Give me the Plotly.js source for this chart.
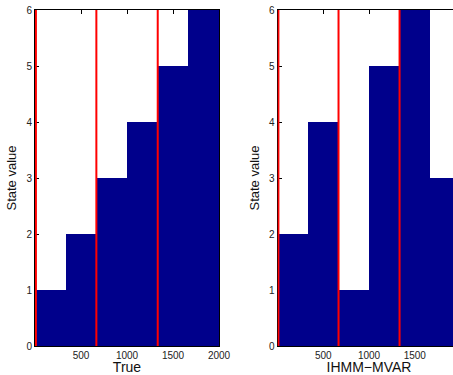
<!DOCTYPE html>
<html>
<head>
<meta charset="utf-8">
<script src="https://cdn.plot.ly/plotly-3.0.1.min.js"></script>
<style>
html,body{margin:0;padding:0;overflow:hidden;background:#fff;}
#chart{width:480px;height:375px;}
</style>
</head>
<body>
<div id="chart"></div>
<script>
// Segment boundaries (time index) and state per segment
var segStarts = [0, 334, 667, 1000, 1334, 1667];
var segEnds   = [334, 667, 1000, 1334, 1667, 2000];
var trueStates = [1, 2, 3, 4, 5, 6];
var ihmmStates = [2, 4, 1, 5, 6, 3];
var changePoints = [10, 667, 1334];
var yTicks = [0, 1, 2, 3, 4, 5, 6];
var xTicksLeft = [500, 1000, 1500, 2000];
var xTicksRight = [500, 1000, 1500];
var panelTitles = ['True', 'IHMM\u2212MVAR'];

var fillColor = '#00008B';
var W = 480;

function barTrace(states, xa, ya) {
  var x = [], w = [];
  for (var i = 0; i < segStarts.length; i++) {
    x.push((segStarts[i] + segEnds[i]) / 2);
    w.push(segEnds[i] - segStarts[i]);
  }
  return {type: 'bar', x: x, y: states, width: w, xaxis: xa, yaxis: ya,
          marker: {color: fillColor, line: {width: 0}}, hoverinfo: 'skip', showlegend: false};
}
function cpTraces(xa, ya) {
  return changePoints.map(function (c) {
    return {type: 'scatter', mode: 'lines', x: [c, c], y: [0, 6], xaxis: xa, yaxis: ya,
            line: {color: '#FF0000', width: 2}, hoverinfo: 'skip', showlegend: false};
  });
}

var data = [barTrace(trueStates, 'x', 'y')].concat(cpTraces('x', 'y'))
  .concat([barTrace(ihmmStates, 'x2', 'y2')]).concat(cpTraces('x2', 'y2'));

var fam = 'Liberation Sans, Arial, sans-serif';
function xAxis(domain, title, anchor, ticks) {
  return {domain: domain, range: [0, 2000], anchor: anchor, tickvals: ticks,
          ticks: 'inside', ticklen: 4, tickcolor: '#000', showline: true, linecolor: '#000',
          linewidth: 1, mirror: 'ticks', showgrid: false, zeroline: false, layer: 'below traces',
          tickfont: {family: fam, size: 10, color: '#222'},
          title: {text: title, standoff: 5, font: {family: fam, size: 14, color: '#111'}}};
}
function yAxis(anchor) {
  return {domain: [0, 1], range: [0, 6], anchor: anchor, tickvals: yTicks,
          ticks: 'inside', ticklen: 4, tickcolor: '#000', showline: true, linecolor: '#000',
          linewidth: 1, mirror: 'ticks', showgrid: false, zeroline: false, layer: 'below traces',
          tickfont: {family: fam, size: 10, color: '#222'},
          title: {text: 'State value', standoff: 6, font: {family: fam, size: 13, color: '#111'}}};
}

var layout = {
  width: W, height: 375,
  margin: {l: 0, r: 0, t: 10, b: 29},
  paper_bgcolor: '#fff', plot_bgcolor: '#fff',
  bargap: 0,
  xaxis: xAxis([35 / W, 219 / W], panelTitles[0], 'y', xTicksLeft),
  yaxis: yAxis('x'),
  xaxis2: xAxis([277.5 / W, 460.5 / W], panelTitles[1], 'y2', xTicksRight),
  yaxis2: yAxis('x2')
};

Plotly.newPlot('chart', data, layout, {displayModeBar: false, staticPlot: true});
</script>
</body>
</html>
